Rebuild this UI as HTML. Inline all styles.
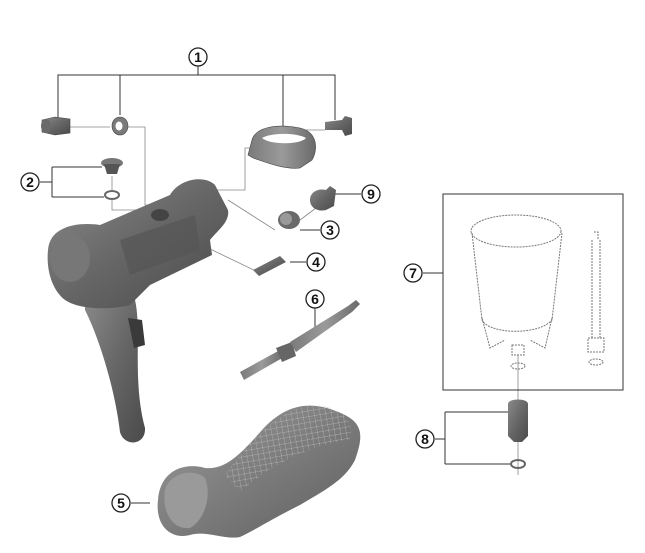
<!DOCTYPE html>
<html><head><meta charset="utf-8"><style>
html,body{margin:0;padding:0;background:#fff;}
svg{display:block;}
text{font-family:"Liberation Sans",sans-serif;font-weight:bold;font-size:14px;}
</style></head><body>
<svg width="645" height="553" viewBox="0 0 645 553" xmlns="http://www.w3.org/2000/svg">
<defs>
<linearGradient id="g1" x1="0" y1="0" x2="1" y2="1"><stop offset="0" stop-color="#8a8a8a"/><stop offset="0.5" stop-color="#666"/><stop offset="1" stop-color="#4a4a4a"/></linearGradient>
<linearGradient id="g2" x1="0" y1="0" x2="1" y2="0"><stop offset="0" stop-color="#7a7a7a"/><stop offset="0.5" stop-color="#9a9a9a"/><stop offset="1" stop-color="#6a6a6a"/></linearGradient>
<linearGradient id="g3" x1="0" y1="0" x2="1" y2="1"><stop offset="0" stop-color="#9b9b9b"/><stop offset="1" stop-color="#5e5e5e"/></linearGradient>
<pattern id="mesh" width="8" height="8" patternUnits="userSpaceOnUse" patternTransform="rotate(35)"><path d="M0,0 L8,8 M8,0 L0,8" stroke="#b8b8b8" stroke-width="0.5"/></pattern>
</defs>

<g stroke="#333" stroke-width="1" fill="none">
<path d="M58,118 V75 H335 V120 M120,75 V115 M283,75 V135 M198,66 V75"/>
<path d="M40,182 H52 M52,167 V197 M52,167 H102 M52,197 H104"/>
<path d="M320,194 H361 M300,230 H320 M290,262 H306"/>
<path d="M315,308 V327"/>
<path d="M423,273 H443"/>
<path d="M435,439 H445 M445,412 V464 M445,412 H510 M445,464 H510"/>
<path d="M131,503 H150"/>
</g>
<g stroke="#888" stroke-width="0.8" fill="none">
<path d="M70,127 H110 M128,127 H145 V205 H160"/>
<path d="M112,176 V190 M112,200 V210 H160 V225"/>
<path d="M215,190 H245 V148 H258 M290,130 H325"/>
<path d="M228,200 L275,230 M300,220 L320,205"/>
<path d="M208,248 L258,272"/>
<path d="M518,355 V400 M518,440 V475"/>
</g>

<path d="M42,120 L55,117 L70,119 L70,133 L55,135 L42,132 Z" fill="url(#g1)" stroke="#444" stroke-width="0.6"/>
<ellipse cx="46" cy="126" rx="5" ry="7" fill="#6a6a6a"/>
<ellipse cx="120" cy="126" rx="8" ry="9" fill="#7a7a7a" stroke="#444" stroke-width="0.6"/>
<ellipse cx="119" cy="126" rx="3.5" ry="4.5" fill="#fff"/>
<path d="M252,140 C255,128 275,123 300,128 C318,132 318,150 312,160 L300,168 C285,170 265,162 253,158 L248,155 Z" fill="url(#g2)" stroke="#444" stroke-width="0.6"/>
<path d="M262,138 C270,133 295,132 306,138 C300,145 270,145 262,138 Z" fill="#fff"/>
<path d="M325,122 L342,120 L345,116 L352,118 L352,134 L345,136 L342,130 L325,130 Z" fill="url(#g1)"/>
<ellipse cx="112" cy="163" rx="11" ry="5" fill="#777"/>
<path d="M104,164 L120,164 L117,174 L107,174 Z" fill="#555"/>
<ellipse cx="112" cy="195" rx="7" ry="4" fill="none" stroke="#666" stroke-width="2"/>
<path d="M310,200 C310,192 318,188 326,190 L330,186 L336,190 L334,206 L326,210 C318,212 310,208 310,200 Z" fill="url(#g1)"/>
<ellipse cx="289" cy="220" rx="11" ry="9" fill="#6a6a6a"/>
<ellipse cx="286" cy="219" rx="6" ry="6" fill="#999"/>
<path d="M253,270 L280,256 L286,262 L259,276 Z" fill="url(#g1)"/>

<path d="M85,295 L135,300 C142,330 132,380 145,428 C146,446 124,447 120,432 C115,390 100,340 85,310 Z" fill="url(#g1)"/>
<path d="M128,318 L142,320 L145,345 L134,348 Z" fill="#3a3a3a"/>
<path d="M48,250 C50,225 80,222 100,225 L170,195 C180,178 205,175 215,185 L228,210 C230,222 218,230 210,240 L212,255 L150,285 L130,305 C110,310 80,310 65,300 C52,290 46,270 48,250 Z" fill="url(#g1)"/>
<ellipse cx="70" cy="258" rx="20" ry="24" fill="#777"/>
<ellipse cx="160" cy="215" rx="9" ry="6" fill="#444"/>
<path d="M120,240 L195,215 L200,250 L130,275 Z" fill="#555" opacity="0.7"/>

<path d="M240,372 L280,350 L284,357 L244,380 Z" fill="url(#g2)"/>
<path d="M276,348 L292,342 L296,356 L282,362 Z" fill="#666"/>
<path d="M290,342 L348,306 L356,300 L360,304 L352,312 L296,352 Z" fill="url(#g2)"/>

<path d="M158,500 C160,470 185,462 205,468 C225,470 240,455 262,430 C285,405 310,398 345,415 C365,425 362,440 355,460 C345,480 325,490 300,505 C270,520 255,530 240,537 C225,540 205,530 190,535 C170,540 155,525 158,500 Z" fill="url(#g3)"/>
<path d="M225,475 C250,440 280,405 320,405 C345,410 355,422 350,440 C310,445 270,465 240,492 Z" fill="url(#mesh)"/>
<path d="M165,490 C170,472 195,468 205,478 C212,495 205,520 190,528 C172,530 162,512 165,490 Z" fill="#9a9a9a"/>

<rect x="443" y="194" width="180" height="196" fill="none" stroke="#333" stroke-width="1"/>
<g fill="none" stroke="#777" stroke-width="1" stroke-dasharray="2,1">
<ellipse cx="516" cy="231" rx="45" ry="16"/>
<path d="M472,233 L482,320 C490,335 540,335 552,320 L562,233"/>
<path d="M482,318 L490,348 L505,340 M552,318 L545,348 L530,340"/>
<path d="M512,345 H524 V355 H512 Z"/>
<ellipse cx="518" cy="366" rx="7" ry="3"/>
<path d="M592,240 V338 M600,240 V338 M594,232 H598 V240"/>
<path d="M588,338 H604 V352 H588 Z"/>
<ellipse cx="596" cy="362" rx="7" ry="3"/>
</g>
<path d="M508,404 C508,398 528,398 528,404 L528,436 L522,442 L514,442 L508,436 Z" fill="url(#g1)"/>
<ellipse cx="518" cy="464" rx="7" ry="4" fill="none" stroke="#666" stroke-width="2"/>

<g fill="#fff" stroke="#222" stroke-width="1.3">
<circle cx="198" cy="57" r="9"/><circle cx="30" cy="182" r="9"/><circle cx="371" cy="194" r="9"/>
<circle cx="330" cy="230" r="9"/><circle cx="316" cy="262" r="9"/><circle cx="315" cy="299" r="9"/>
<circle cx="413" cy="273" r="9"/><circle cx="425" cy="439" r="9"/><circle cx="121" cy="503" r="9"/>
</g>
<g fill="#111" text-anchor="middle">
<text x="198" y="62">1</text><text x="30" y="187">2</text><text x="371" y="199">9</text>
<text x="330" y="235">3</text><text x="316" y="267">4</text><text x="315" y="304">6</text>
<text x="413" y="278">7</text><text x="425" y="444">8</text><text x="121" y="508">5</text>
</g>
</svg>
</body></html>
